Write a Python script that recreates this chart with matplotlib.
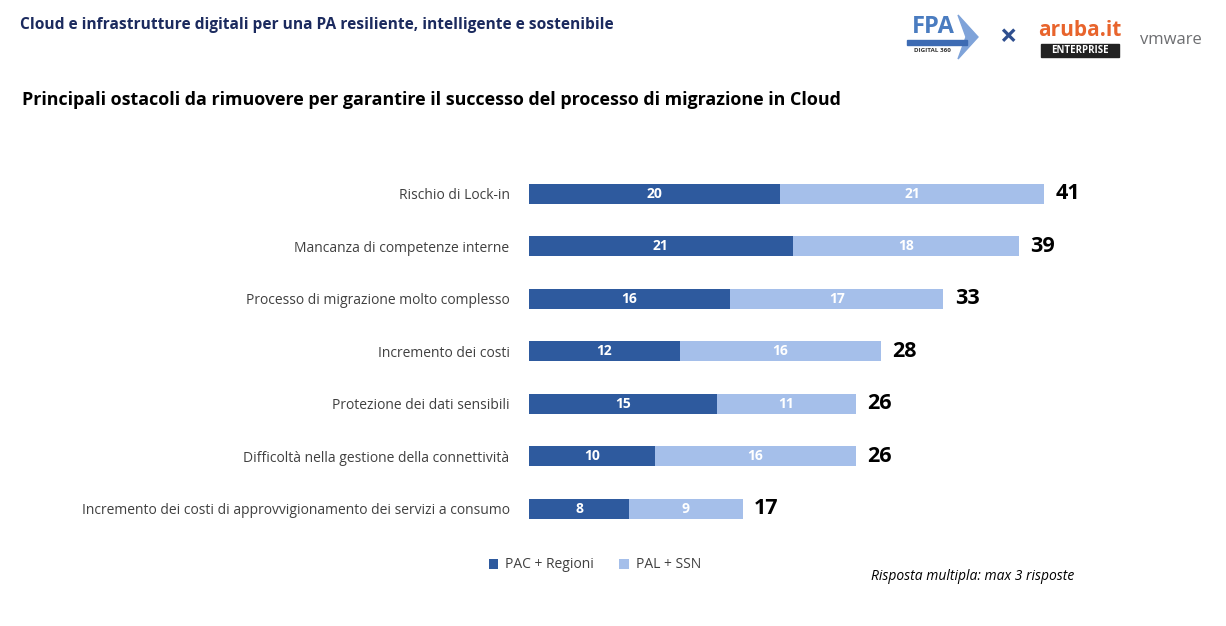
import matplotlib.pyplot as plt
from matplotlib.patches import Rectangle, Polygon

# === Dati ===
categorie = [
    "Rischio di Lock-in",
    "Mancanza di competenze interne",
    "Processo di migrazione molto complesso",
    "Incremento dei costi",
    "Protezione dei dati sensibili",
    "Difficoltà nella gestione della connettività",
    "Incremento dei costi di approvvigionamento dei servizi a consumo",
]
pac_regioni = [20, 21, 16, 12, 15, 10, 8]
pal_ssn = [21, 18, 17, 16, 11, 16, 9]
totali = [41, 39, 33, 28, 26, 26, 17]
serie_nomi = ["PAC + Regioni", "PAL + SSN"]

col_scuro = "#2E5A9E"
col_chiaro = "#A5BFEA"

plt.rcParams["font.family"] = ["Open Sans", "DejaVu Sans"]

fig = plt.figure(figsize=(12.26, 6.26), dpi=100)
W, H = 1226, 626

# === Grafico a barre ===
ax = fig.add_axes([529 / W, (H - 535) / H, 628 / W, 367.5 / H])
y = list(range(len(categorie)))
ax.barh(y, pac_regioni, height=0.38, color=col_scuro, label=serie_nomi[0])
ax.barh(y, pal_ssn, left=pac_regioni, height=0.38, color=col_chiaro, label=serie_nomi[1])

for i in y:
    ax.text(pac_regioni[i] / 2, i, str(pac_regioni[i]), ha="center", va="center",
            color="white", fontsize=10, fontweight="bold")
    ax.text(pac_regioni[i] + pal_ssn[i] / 2, i, str(pal_ssn[i]), ha="center", va="center",
            color="white", fontsize=10, fontweight="bold")
    ax.text(totali[i] + 0.9, i, str(totali[i]), ha="left", va="center",
            color="black", fontsize=15.5, fontweight="bold")

ax.set_xlim(0, 50)
ax.set_ylim(len(categorie) - 0.5, -0.5)
ax.set_yticks(y)
ax.set_yticklabels(categorie, fontsize=10, color="#404040")
ax.tick_params(axis="y", length=0, pad=14)
ax.set_xticks([])
for s in ax.spines.values():
    s.set_visible(False)

# === Legenda ===
fig.legend(loc="center", bbox_to_anchor=(595 / W, 1 - 565 / H), ncol=2, frameon=False,
           fontsize=10, handlelength=0.7, handleheight=0.7, columnspacing=1.8,
           handletextpad=0.5, labelcolor="#404040")

# === Titoli ===
fig.text(20 / W, 1 - 25 / H, "Cloud e infrastrutture digitali per una PA resiliente, intelligente e sostenibile",
         fontsize=11.2, fontweight="bold", color="#1B2A5E", va="center")
fig.text(22 / W, 1 - 100 / H, "Principali ostacoli da rimuovere per garantire il successo del processo di migrazione in Cloud",
         fontsize=12.9, fontweight="bold", color="black", va="center")
fig.text(1074 / W, 1 - 576 / H, "Risposta multipla: max 3 risposte", fontsize=10, style="italic",
         color="black", ha="right", va="center")

# === Loghi (approssimati) ===
fig.text(912 / W, 1 - 27 / H, "FPA", fontsize=17, fontweight="bold", color="#4A7CC0", va="center")
fig.patches.append(Polygon([(958 / W, 1 - 15 / H), (978 / W, 1 - 37 / H), (958 / W, 1 - 59 / H),
                            (966 / W, 1 - 37 / H)], closed=True, transform=fig.transFigure,
                           color="#7FA3D9"))
fig.patches.append(Rectangle((907 / W, 1 - 45 / H), 60 / W, 5 / H, transform=fig.transFigure,
                             color="#3D6BB3"))
fig.text(914 / W, 1 - 51 / H, "DIGITAL 360", fontsize=4.5, fontweight="bold", color="#333333", va="center")
fig.text(1008 / W, 1 - 38 / H, "×", fontsize=22, fontweight="bold", color="#2F4F8F", ha="center", va="center")
fig.text(1080 / W, 1 - 30 / H, "aruba.it", fontsize=15, fontweight="bold", color="#E8642C",
         ha="center", va="center")
fig.patches.append(Rectangle((1041 / W, 1 - 57 / H), 78 / W, 13 / H, transform=fig.transFigure,
                             color="#222222"))
fig.text(1080 / W, 1 - 50.5 / H, "ENTERPRISE", fontsize=7, fontweight="bold", color="white",
         ha="center", va="center")
fig.text(1171 / W, 1 - 40 / H, "vmware", fontsize=12, color="#6D6E71", ha="center", va="center")

fig.savefig("out.png", dpi=100)
